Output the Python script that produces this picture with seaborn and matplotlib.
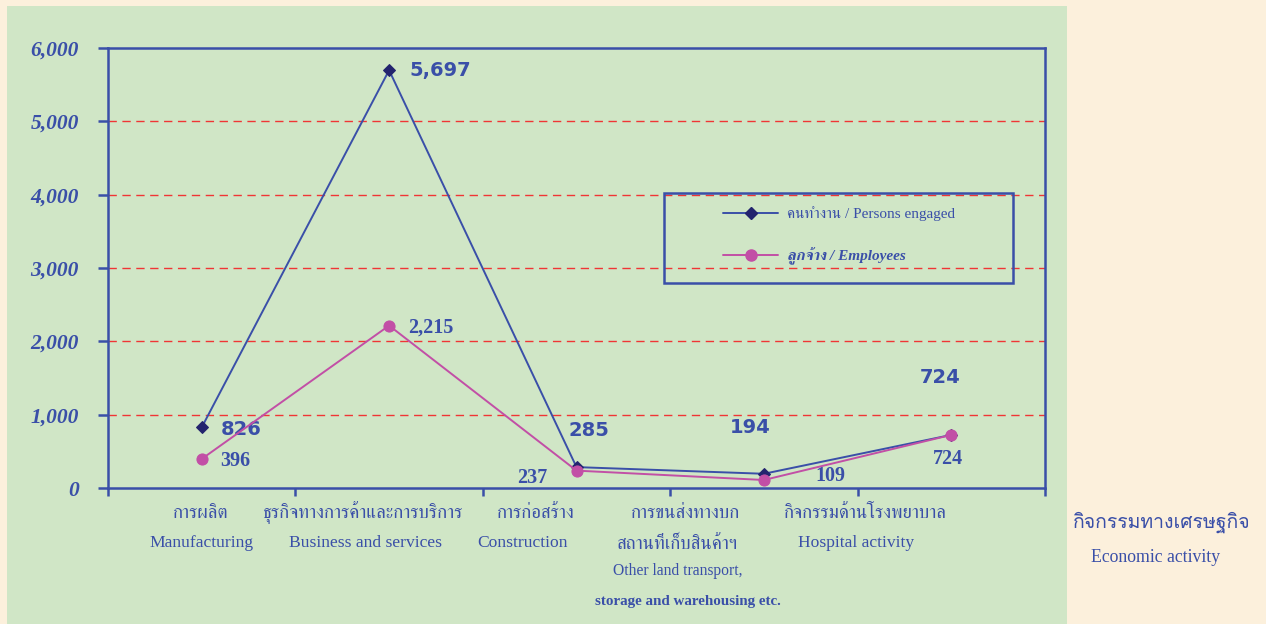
import numpy as np
import matplotlib
matplotlib.use("Agg")
import matplotlib.pyplot as plt
from matplotlib import font_manager
from matplotlib.ft2font import FT2Font
from matplotlib.lines import Line2D
from matplotlib.patches import Rectangle
import matplotlib.transforms as mtransforms
import seaborn as sns

# ---- data ----
cat_thai = ["การผลิต", "ธุรกิจทางการค้าและการบริการ", "การก่อสร้าง",
            "การขนส่งทางบก\nสถานที่เก็บสินค้าฯ", "กิจกรรมด้านโรงพยาบาล"]
cat_eng = ["Manufacturing", "Business and services", "Construction",
           "Other land transport,", "Hospital activity"]
persons = [826, 5697, 285, 194, 724]
employees = [396, 2215, 237, 109, 724]
y_ticks = [0, 1000, 2000, 3000, 4000, 5000, 6000]

BLUE = "#3A4FA8"
NAVY = "#23246E"
PINK = "#C24FA6"
GREEN = "#D0E6C6"
BEIGE = "#FCF0DC"


# find fonts that can draw Thai
def thai_fonts():
    names = []
    for f in font_manager.fontManager.ttflist:
        try:
            if 0x0E01 in FT2Font(f.fname).get_charmap():
                if f.name not in names:
                    names.append(f.name)
        except Exception:
            pass
    return names


thai = thai_fonts()
serif_thai = [n for n in thai if any(k in n for k in ("Serif", "Kinnari", "Norasi"))] + thai
sans_thai = [n for n in thai if any(k in n for k in ("Loma", "Garuda", "Sans"))] + thai
TH_SERIF = ["Liberation Serif"] + serif_thai[:1] + ["DejaVu Sans"]
TH_SANS = ["Liberation Serif"] + sans_thai[:1] + ["DejaVu Sans"]

sns.set_theme(style="white")
plt.rcParams["font.family"] = TH_SERIF

fig = plt.figure(figsize=(12.66, 6.24), dpi=100)
fig.patch.set_facecolor(BEIGE)
fig.patches.append(Rectangle((7 / 1266, 0), 1060 / 1266, 618 / 624,
                             transform=fig.transFigure, facecolor=GREEN,
                             edgecolor="none", zorder=-5))

ax = fig.add_axes([108 / 1266, 136 / 624, 937 / 1266, 440 / 624])
ax.set_facecolor("none")

pos = np.arange(len(persons))
sns.lineplot(x=pos, y=persons, ax=ax, color=BLUE, lw=1.4, marker="D",
             markersize=6.5, markerfacecolor=NAVY, markeredgecolor=NAVY, zorder=4)
sns.lineplot(x=pos, y=employees, ax=ax, color=PINK, lw=1.4, marker="o",
             markersize=8, markerfacecolor=PINK, markeredgecolor=PINK, zorder=5)

ax.set_xlim(-0.5, len(persons) - 0.5)
ax.set_ylim(0, 6000)
for v in y_ticks[1:-1]:
    ax.axhline(v, color="#F03535", lw=1.0, ls=(0, (6, 4)), zorder=1)

for s in ax.spines.values():
    s.set_color(BLUE)
    s.set_linewidth(1.8)
    s.set_visible(True)

ax.set_yticks(y_ticks)
ax.set_yticklabels([f"{v:,}" for v in y_ticks])
for t in ax.get_yticklabels():
    t.set_fontfamily("Liberation Serif")
    t.set_fontweight("bold")
    t.set_fontstyle("italic")
    t.set_fontsize(15.5)
    t.set_color(BLUE)
ax.tick_params(axis="y", left=True, direction="out", length=7, width=1.8,
               color=BLUE, pad=14)
ax.set_xticks(np.arange(-0.5, len(persons), 1.0))
ax.set_xticklabels([])
ax.tick_params(axis="x", bottom=True, direction="out", length=6, width=1.8, color=BLUE)
ax.set_xlabel("")
ax.set_ylabel("")

# category labels below the axis (label shifts in pixels, as laid out in the source)
thai_shift = [[-1], [-26], [-41], [-78, -86], [-86]]
eng_shift = [[0], [-24], [-54], [-86, -76], [-95]]
tr = mtransforms.blended_transform_factory(ax.transData, fig.transFigure)
for i, (th, en) in enumerate(zip(cat_thai, cat_eng)):
    lines = th.split("\n")
    for j, ln in enumerate(lines):
        off = mtransforms.offset_copy(tr, fig=fig, x=thai_shift[i][j], units="dots")
        ax.text(i, 1 - (513 + 31 * j) / 624, ln, transform=off, ha="center",
                va="center", fontsize=13.5, color=BLUE, family=TH_SERIF)
    off = mtransforms.offset_copy(tr, fig=fig, x=eng_shift[i][0], units="dots")
    if len(lines) == 1:
        ax.text(i, 1 - 543 / 624, en, transform=off, ha="center", va="center",
                fontsize=12.6, color=BLUE, family="Liberation Serif")
    else:
        ax.text(i, 1 - 571 / 624, en, transform=off, ha="center", va="center",
                fontsize=11.2, color=BLUE, family="Liberation Serif")
        off2 = mtransforms.offset_copy(tr, fig=fig, x=eng_shift[i][1], units="dots")
        ax.text(i, 1 - 602 / 624, "storage and warehousing etc.", transform=off2,
                ha="center", va="center", fontsize=10.8, color=BLUE,
                fontweight="bold", family="Liberation Serif")

# value labels (offsets in pixels)
p_off = [(19, -2), (20, 0), (-8, 37), (-34, 46), (-32, 57)]
e_off = [(18, -2), (19, -2), (-59, -7), (51, 4), (-18, -24)]
for i, (v, (dx, dy)) in enumerate(zip(persons, p_off)):
    ax.annotate(f"{v:,}", (i, v), xytext=(dx * 0.72, dy * 0.72),
                textcoords="offset points", ha="left", va="center",
                fontsize=14, fontweight="bold", color=BLUE, family="DejaVu Sans")
for i, (v, (dx, dy)) in enumerate(zip(employees, e_off)):
    ax.annotate(f"{v:,}", (i, v), xytext=(dx * 0.72, dy * 0.72),
                textcoords="offset points", ha="left", va="center",
                fontsize=14.5, fontweight="bold", color=BLUE, family="Liberation Serif")

# legend
ax.add_patch(Rectangle(((664 - 108) / 937, (488 - 283) / 440), 349 / 937, 90 / 440,
                       transform=ax.transAxes, facecolor="none", edgecolor=BLUE,
                       lw=1.8, zorder=6))
handles = [Line2D([], [], color=BLUE, lw=1.4, marker="D", markersize=6.5,
                  markerfacecolor=NAVY, markeredgecolor=NAVY),
           Line2D([], [], color=PINK, lw=1.4, marker="o", markersize=8,
                  markerfacecolor=PINK, markeredgecolor=PINK)]
leg = ax.legend(handles, ["คนทำงาน / Persons engaged", "ลูกจ้าง / Employees"],
                loc="upper left", bbox_to_anchor=((723 - 108) / 937, (488 - 206) / 440),
                frameon=False, borderpad=0, borderaxespad=0, handlelength=3.6,
                handletextpad=0.6, labelspacing=1.75, prop={"size": 11, "family": TH_SERIF})
for t in leg.get_texts():
    t.set_color(BLUE)
leg.get_texts()[1].set_fontweight("bold")
leg.get_texts()[1].set_fontstyle("italic")

# axis title on the right
fig.text(1162 / 1266, 1 - 522 / 624, "กิจกรรมทางเศรษฐกิจ", ha="center", va="center",
         fontsize=14, color=BLUE, family=TH_SANS)
fig.text(1156 / 1266, 1 - 558 / 624, "Economic activity", ha="center", va="center",
         fontsize=12.8, color=BLUE, family="Liberation Serif")

fig.savefig("out.png", dpi=100, facecolor=fig.get_facecolor())
